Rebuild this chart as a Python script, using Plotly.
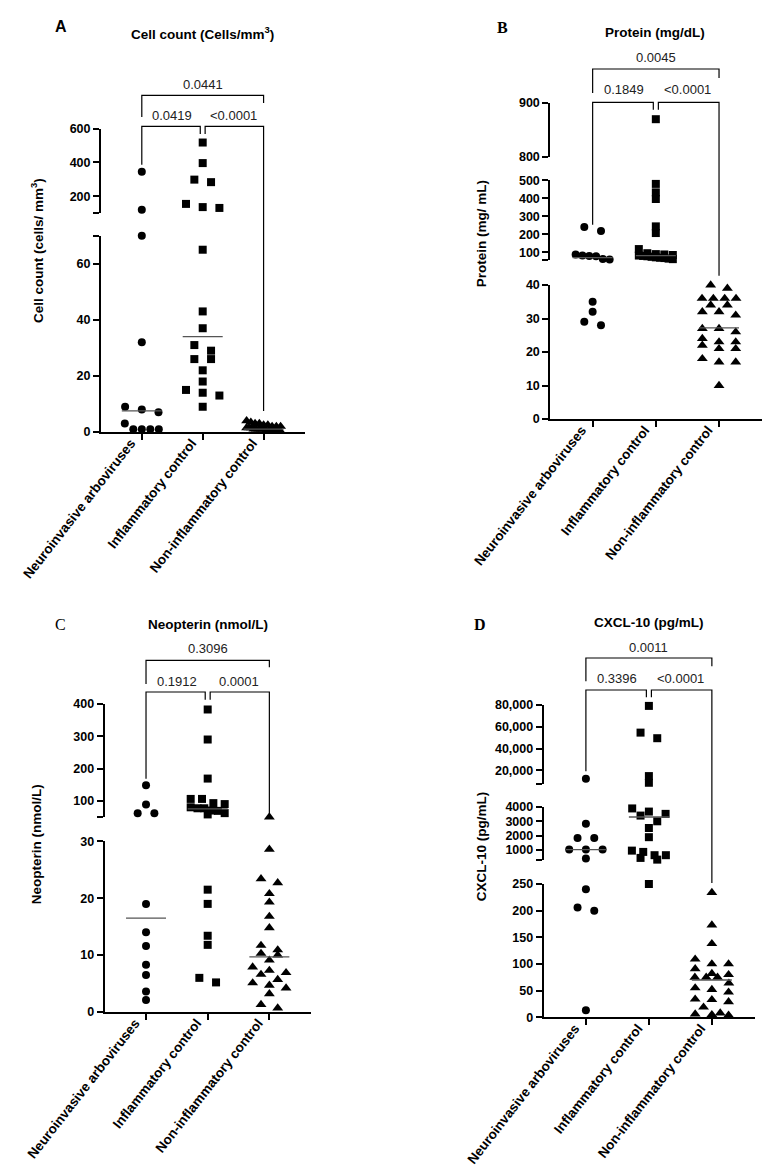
import plotly.graph_objects as go

W, H = 773, 1168

# ---------------- data ----------------
categories = ["Neuroinvasive arboviruses", "Inflammatory control", "Non-inflammatory control"]

cell_arbo = [345, 120, 70, 32, 9, 8, 7, 3, 1, 1, 1, 1]
cell_infl = [518, 396, 298, 283, 154, 135, 130, 65, 43, 37, 31, 29, 26, 26, 22, 18, 15, 14, 13, 9]
cell_noninfl = [4, 3.5, 3, 3, 2.5, 2.5, 2, 2, 2, 1.5, 1.5, 1.5, 1, 1, 1, 1, 1, 0.5, 0.5, 0.5, 0.5, 0.3, 0.3, 0.2]
cell_medians = [7.5, 34, 1]
cell_p = ["0.0419", "<0.0001", "0.0441"]

prot_arbo = [240, 218, 88, 82, 80, 78, 63, 60, 35, 32, 29, 28]
prot_infl = [870, 480, 433, 396, 244, 207, 118, 95, 90, 88, 85, 82, 80, 78, 75, 72, 70, 68, 65, 62]
prot_noninfl = [40, 39, 36, 36, 36, 36, 34, 34, 32, 32, 31, 27, 27, 26, 24, 23, 23, 22, 21, 21, 18, 17, 17, 10]
prot_medians = [70, 82, 27.2]
prot_p = ["0.1849", "<0.0001", "0.0045"]

neo_arbo = [148, 89, 62, 62, 19, 14, 11.6, 8.3, 6.5, 3.6, 2.1]
neo_infl = [383, 290, 169, 106, 106, 93, 90, 80, 77, 77, 70, 69, 62, 58, 21.5, 19, 13.4, 11.8, 6, 5.2]
neo_noninfl = [50, 28.6, 23.4, 22.7, 20.8, 19.3, 16.8, 14.8, 11.7, 10.9, 10.3, 10, 9.1, 7.9, 7.3, 6.9,
               6.6, 5.7, 5.1, 4.7, 4.2, 3.2, 1.3, 0.7]
neo_medians = [16.5, 75, 9.7]
neo_p = ["0.1912", "0.0001", "0.3096"]

cxcl_arbo = [12300, 2830, 1830, 1830, 1020, 1020, 1020, 392, 240, 206, 200, 13]
cxcl_infl = [78900, 54500, 49400, 14800, 8700, 3900, 3680, 3520, 3400, 3000, 2530, 1890, 950, 860,
             630, 630, 440, 320, 250]
cxcl_noninfl = [234, 173, 138, 109, 100, 100, 91, 82, 80, 75, 75, 75, 64, 55, 52, 47, 34, 33, 29, 19, 8, 6, 5, 4]
cxcl_medians = [1020, 3300, 70]
cxcl_p = ["0.3396", "<0.0001", "0.0011"]

# tick values / labels per axis segment (bottom segment first)
cell_ticks = [([0, 20, 40, 60, 70], ["0", "20", "40", "60", ""]),
              ([100, 200, 400, 600], ["", "200", "400", "600"])]
prot_ticks = [([0, 10, 20, 30, 40], ["0", "10", "20", "30", "40"]),
              ([55.6, 100, 200, 300, 400, 500], ["", "100", "200", "300", "400", "500"]),
              ([800, 900], ["800", "900"])]
neo_ticks = [([0, 10, 20, 30], ["0", "10", "20", "30"]),
             ([50, 100, 200, 300, 400], ["", "100", "200", "300", "400"])]
cxcl_ticks = [([0, 50, 100, 150, 200, 250], ["0", "50", "100", "150", "200", "250"]),
              ([273, 1000, 2000, 3000, 4000], ["", "1000", "2000", "3000", "4000"]),
              ([7850, 20000, 40000, 60000, 80000], ["", "20,000", "40,000", "60,000", "80,000"])]

# ---------------- layout geometry (pixels) ----------------
SANS = "Liberation Sans, Arial, sans-serif"
SERIF = "Liberation Serif, Times New Roman, serif"
XR = (-0.67, 2.68)


def fy(py):
    return 1 - py / H


def fx(px):
    return px / W


panels = [
    dict(letter="A", letter_pos=(53, 18), letter_font=SANS, letter_bold=True,
         title="Cell count (Cells/mm<sup>3</sup>)", title_pos=(195, 25),
         ytitle="Cell count (cells/ mm<sup>3</sup>)", ytitle_pos=(29, 243),
         xpx=(93, 297), groups=[cell_arbo, cell_infl, cell_noninfl], medians=cell_medians,
         ticks=cell_ticks, pvals=cell_p,
         segs=[(0, 70, 424, 227.7), (100, 600, 205, 120.7)],
         br=dict(top=87.3, top_legs=(109, 95), top_lab=76, low=118.3,
                 l_legs=(156.7, 126), r_legs=(126, 403), low_lab=107)),
    dict(letter="B", letter_pos=(494, 20), letter_font=SERIF, letter_bold=True,
         title="Protein (mg/dL)", title_pos=(646.7, 24.3),
         ytitle="Protein (mg/ mL)", ytitle_pos=(473.3, 226),
         xpx=(542.3, 754), groups=[prot_arbo, prot_infl, prot_noninfl], medians=prot_medians,
         ticks=prot_ticks, pvals=prot_p,
         segs=[(0, 40, 411, 277), (55.6, 500, 252.3, 172.3), (800, 900, 149, 95)],
         br=dict(top=61, top_legs=(85, 70), top_lab=49.3, low=94.3,
                 l_legs=(216.7, 101.7), r_legs=(101.7, 267.7), low_lab=81.7)),
    dict(letter="C", letter_pos=(52.7, 616.7), letter_font=SERIF, letter_bold=False,
         title="Neopterin (nmol/L)", title_pos=(200, 616),
         ytitle="Neopterin (nmol/L)", ytitle_pos=(28.3, 836),
         xpx=(96.7, 303.3), groups=[neo_arbo, neo_infl, neo_noninfl], medians=neo_medians,
         ticks=neo_ticks, pvals=neo_p,
         segs=[(0, 30, 1004, 833.3), (50, 400, 809, 696)],
         br=dict(top=652.3, top_legs=(676, 659.3), top_lab=640, low=684,
                 l_legs=(770.7, 691.7), r_legs=(691.7, 806.7), low_lab=673.3)),
    dict(letter="D", letter_pos=(471.7, 616.7), letter_font=SERIF, letter_bold=True,
         title="CXCL-10 (pg/mL)", title_pos=(640.7, 614.3),
         ytitle="CXCL-10 (pg/mL)", ytitle_pos=(473.3, 838),
         xpx=(535.7, 746.7), groups=[cxcl_arbo, cxcl_infl, cxcl_noninfl], medians=cxcl_medians,
         ticks=cxcl_ticks, pvals=cxcl_p,
         segs=[(0, 250, 1009.3, 876), (273, 4000, 852.3, 799), (7850, 80000, 775.7, 696.7)],
         br=dict(top=650, top_legs=(673.3, 658.3), top_lab=639.3, low=682,
                 l_legs=(763.3, 689.3), r_legs=(689.3, 875), low_lab=670)),
]

symbols = ["circle", "square", "triangle-up"]
sizes = [8, 8, 9.5]


def seg_index(segs, v):
    for i, (lo, hi, pb, pt) in enumerate(segs):
        if lo - 1e-9 <= v <= hi + 1e-9:
            return i
    d = [min(abs(v - lo), abs(v - hi)) for (lo, hi, pb, pt) in segs]
    return d.index(min(d))


def val_px(segs, v):
    lo, hi, pb, pt = segs[seg_index(segs, v)]
    return pb - (v - lo) / (hi - lo) * (pb - pt)


def jitter(pys, spacing=16.7, maxhalf=17, rowh=6):
    order = sorted(range(len(pys)), key=lambda i: pys[i])
    rows = []
    for i in order:
        if rows and pys[i] - pys[rows[-1][0]] < rowh:
            rows[-1].append(i)
        else:
            rows.append([i])
    off = [0.0] * len(pys)
    for row in rows:
        n = len(row)
        sp = spacing if n <= 1 else min(spacing, 2 * maxhalf / (n - 1))
        for j, i in enumerate(row):
            off[i] = (j - (n - 1) / 2) * sp
    return off


fig = go.Figure()
layout = dict(width=W, height=H, margin=dict(l=0, r=0, t=0, b=0, autoexpand=False),
              template="none",
              paper_bgcolor="white", plot_bgcolor="white", showlegend=False,
              font=dict(family=SANS, color="black"))
shapes = []
annotations = []

ycount = 0
for p, P in enumerate(panels):
    xn = "x" if p == 0 else f"x{p + 1}"
    xkey = "xaxis" if p == 0 else f"xaxis{p + 1}"
    x0, x1 = P["xpx"]
    spacing_px = (x1 - x0) / (XR[1] - XR[0])
    ynames = []
    for s, (lo, hi, pb, pt) in enumerate(P["segs"]):
        ycount += 1
        yn = "y" if ycount == 1 else f"y{ycount}"
        ykey = "yaxis" if ycount == 1 else f"yaxis{ycount}"
        ynames.append(yn)
        tv, tt = P["ticks"][s]
        layout[ykey] = dict(domain=[fy(pb), fy(pt)], range=[lo, hi], anchor=xn, automargin=False,
                            showline=True, linewidth=2, linecolor="black",
                            ticks="outside", ticklen=6, tickwidth=2, tickcolor="black",
                            tickvals=tv, ticktext=tt, showgrid=False, zeroline=False,
                            tickfont=dict(family=SANS, size=12.5, weight="bold", color="black"))
    layout[xkey] = dict(domain=[fx(x0), fx(x1)], range=list(XR), anchor=ynames[0], automargin=False,
                        showline=True, linewidth=2, linecolor="black",
                        ticks="outside", ticklen=6, tickwidth=2, tickcolor="black",
                        tickvals=[0, 1, 2], ticktext=categories, tickangle=-52,
                        ticklabelshift=-11, ticklabelstandoff=-10,
                        showgrid=False, zeroline=False,
                        tickfont=dict(family=SANS, size=13.5, weight="bold", color="black"))

    segs = P["segs"]
    for g, vals in enumerate(P["groups"]):
        pys = [val_px(segs, v) for v in vals]
        offs = jitter(pys)
        for s in range(len(segs)):
            idx = [i for i, v in enumerate(vals) if seg_index(segs, v) == s]
            if not idx:
                continue
            fig.add_trace(go.Scatter(
                x=[g + offs[i] / spacing_px for i in idx], y=[vals[i] for i in idx],
                xaxis=xn, yaxis=ynames[s], mode="markers", cliponaxis=False,
                marker=dict(symbol=symbols[g], size=sizes[g], color="black", line=dict(width=0)),
                hoverinfo="y"))
        m = P["medians"][g]
        half = 20 / spacing_px
        fig.add_trace(go.Scatter(
            x=[g - half, g + half], y=[m, m], xaxis=xn, yaxis=ynames[seg_index(segs, m)],
            mode="lines", line=dict(color="#555555", width=1.3), cliponaxis=False, hoverinfo="skip"))

    # significance brackets
    b = P["br"]
    d = 0.04
    lw = dict(color="black", width=1.2)
    shapes.append(dict(type="path", xref=xn, yref="paper", line=lw,
                       path=f"M 0 {fy(b['top_legs'][0])} L 0 {fy(b['top'])} L 2 {fy(b['top'])} L 2 {fy(b['top_legs'][1])}"))
    shapes.append(dict(type="path", xref=xn, yref="paper", line=lw,
                       path=f"M 0 {fy(b['l_legs'][0])} L 0 {fy(b['low'])} L {1 - d} {fy(b['low'])} L {1 - d} {fy(b['l_legs'][1])}"))
    shapes.append(dict(type="path", xref=xn, yref="paper", line=lw,
                       path=f"M {1 + d} {fy(b['r_legs'][0])} L {1 + d} {fy(b['low'])} L 2 {fy(b['low'])} L 2 {fy(b['r_legs'][1])}"))
    pfont = dict(family=SANS, size=13, color="#222222")
    for xx, yy, txt in [(0.5, b["low_lab"], P["pvals"][0]), (1.5, b["low_lab"], P["pvals"][1]),
                        (1.0, b["top_lab"], P["pvals"][2])]:
        annotations.append(dict(x=xx, y=fy(yy), xref=xn, yref="paper", text=txt, showarrow=False,
                                xanchor="center", yanchor="middle", font=pfont))

    # titles and letters
    lx, ly = P["letter_pos"]
    lt = f"<b>{P['letter']}</b>" if P["letter_bold"] else P["letter"]
    annotations.append(dict(x=fx(lx), y=fy(ly), xref="paper", yref="paper", text=lt, showarrow=False,
                            xanchor="center", yanchor="middle",
                            font=dict(family=P["letter_font"], size=16, color="black")))
    tx, ty = P["title_pos"]
    annotations.append(dict(x=fx(tx), y=fy(ty), xref="paper", yref="paper", text=f"<b>{P['title']}</b>",
                            showarrow=False, xanchor="center", yanchor="middle",
                            font=dict(family=SANS, size=13.5, color="black")))
    yx, yy = P["ytitle_pos"]
    annotations.append(dict(x=fx(yx), y=fy(yy), xref="paper", yref="paper", text=f"<b>{P['ytitle']}</b>",
                            showarrow=False, xanchor="center", yanchor="middle", textangle=-90,
                            font=dict(family=SANS, size=13.5, color="black")))

layout["shapes"] = shapes
layout["annotations"] = annotations
fig.update_layout(**layout)
fig.write_html("out.html")
